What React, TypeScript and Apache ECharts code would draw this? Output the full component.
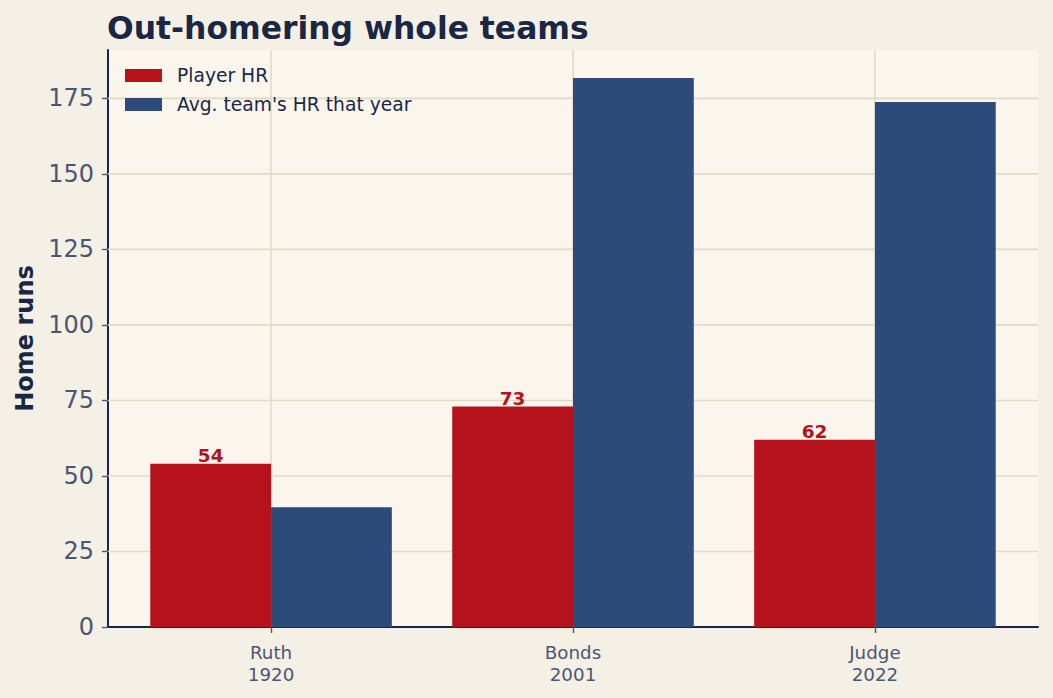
import React, { useEffect, useRef } from "react";
import * as echarts from "echarts";

const players = ["Ruth", "Bonds", "Judge"];
const years = ["1920", "2001", "2022"];
const playerHR = [54, 73, 62];
const teamHR = [39.6, 181.7, 173.8];
const yTicks = [0, 25, 50, 75, 100, 125, 150, 175];
const seriesNames = ["Player HR", "Avg. team's HR that year"];

const RED = "#b5121b";
const BLUE = "#2d4b7a";
const NAVY = "#1a2744";
const TICK = "#4d5670";
const GRIDC = "#e4dac3";
const FONT = "DejaVu Sans";
const X_MIN = -0.54;
const X_MAX = 2.54;
const Y_MAX = 191;

export default function App() {
  const ref = useRef<HTMLDivElement>(null);
  useEffect(() => {
    if (!ref.current) return;
    const chart = echarts.init(ref.current, null, { renderer: "svg" });
    const xs = players.map((_, i) => i);
    const barRender = (offset: number, color: string, withLabel: boolean) =>
      (params: any, api: any) => {
        const x = api.value(0);
        const v = api.value(1);
        const p0 = api.coord([x + offset, v]);
        const p1 = api.coord([x + offset + 0.4, 0]);
        const children: any[] = [
          {
            type: "rect",
            shape: { x: p0[0], y: p0[1], width: p1[0] - p0[0], height: p1[1] - p0[1] },
            style: { fill: color },
          },
        ];
        if (withLabel) {
          children.push({
            type: "text",
            style: {
              text: String(v),
              x: (p0[0] + p1[0]) / 2,
              y: p0[1] - 8,
              align: "center",
              verticalAlign: "middle",
              fill: RED,
              font: `bold 18.5px "${FONT}"`,
            },
          });
        }
        return { type: "group", children };
      };
    const gridData: any[] = [
      ...xs.map((x) => [0, x]),
      ...yTicks.filter((t) => t > 0).map((t) => [1, t]),
    ];
    chart.setOption({
      animation: false,
      backgroundColor: "#f4f0e6",
      textStyle: { fontFamily: FONT },
      title: {
        text: "Out-homering whole teams",
        left: 102,
        top: 7,
        textStyle: { fontSize: 31.4, fontWeight: "bold", color: NAVY, fontFamily: FONT },
      },
      legend: {
        orient: "vertical",
        left: 120,
        top: 61,
        itemWidth: 37,
        itemHeight: 13,
        itemGap: 10,
        icon: "rect",
        data: seriesNames,
        textStyle: { fontSize: 18.7, color: NAVY, fontFamily: FONT, padding: [0, 0, 0, 10] },
      },
      grid: {
        left: 108,
        right: 15,
        top: 50,
        bottom: 71,
        show: true,
        backgroundColor: "#faf6ee",
        borderWidth: 0,
      },
      xAxis: {
        type: "value",
        min: X_MIN,
        max: X_MAX,
        axisLine: { show: true, onZero: false, lineStyle: { color: NAVY, width: 2 } },
        splitLine: { show: false },
        axisTick: { show: true, customValues: xs, length: 6, lineStyle: { color: TICK, width: 1.4 } },
        axisLabel: {
          customValues: xs,
          formatter: (v: number) => {
            const i = Math.round(v);
            return `${players[i]}\n${years[i]}`;
          },
          fontSize: 18.3,
          lineHeight: 22,
          color: TICK,
          margin: 14,
          fontFamily: FONT,
        },
      },
      yAxis: {
        type: "value",
        min: 0,
        max: Y_MAX,
        name: "Home runs",
        nameLocation: "middle",
        nameGap: 70,
        nameTextStyle: { fontSize: 24, fontWeight: "bold", color: NAVY, fontFamily: FONT },
        axisLine: { show: true, onZero: false, lineStyle: { color: NAVY, width: 2 } },
        axisTick: { show: true, customValues: yTicks, length: 6, lineStyle: { color: TICK, width: 1.4 } },
        axisLabel: {
          customValues: yTicks,
          fontSize: 24,
          color: TICK,
          margin: 14,
          fontFamily: FONT,
        },
        splitLine: { show: false },
      },
      series: [
        {
          type: "custom",
          name: "grid",
          silent: true,
          z: 1,
          data: gridData,
          renderItem: (params: any, api: any) => {
            const kind = api.value(0);
            const v = api.value(1);
            const a = kind === 0 ? api.coord([v, 0]) : api.coord([X_MIN, v]);
            const b = kind === 0 ? api.coord([v, Y_MAX]) : api.coord([X_MAX, v]);
            return {
              type: "line",
              shape: { x1: a[0], y1: a[1], x2: b[0], y2: b[1] },
              style: { stroke: GRIDC, lineWidth: 1.6 },
            };
          },
        },
        {
          type: "custom",
          name: seriesNames[0],
          z: 3,
          itemStyle: { color: RED },
          data: xs.map((x, i) => [x, playerHR[i]]),
          renderItem: barRender(-0.4, RED, true),
        },
        {
          type: "custom",
          name: seriesNames[1],
          z: 3,
          itemStyle: { color: BLUE },
          data: xs.map((x, i) => [x, teamHR[i]]),
          renderItem: barRender(0, BLUE, false),
        },
      ],
    });
    return () => chart.dispose();
  }, []);
  return (
    <div
      ref={ref}
      style={{ position: "fixed", left: 0, top: 0, width: 1053, height: 698 }}
    />
  );
}
